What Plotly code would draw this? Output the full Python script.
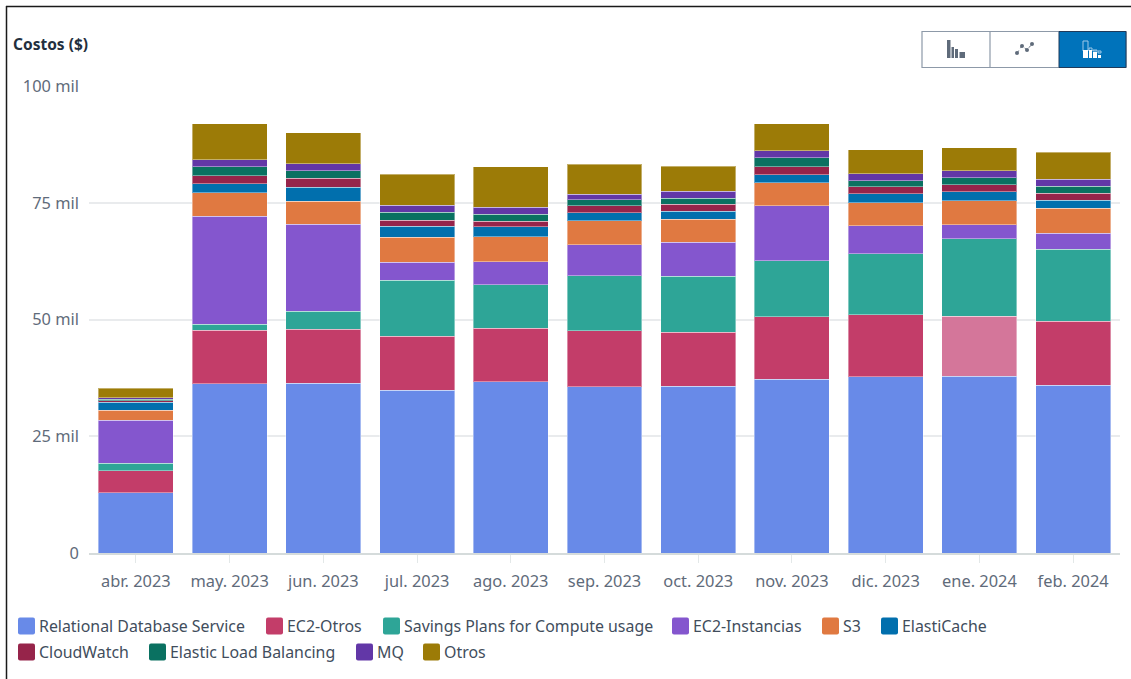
import plotly.graph_objects as go

months = ["abr. 2023", "may. 2023", "jun. 2023", "jul. 2023", "ago. 2023", "sep. 2023",
          "oct. 2023", "nov. 2023", "dic. 2023", "ene. 2024", "feb. 2024"]
rds = [12850, 36190, 36400, 34900, 36620, 35550, 35760, 37260, 37690, 37900, 35970]
ec2_otros = [4710, 11560, 11560, 11560, 11560, 11990, 11560, 13280, 13280, 12850, 13700]
savings = [1710, 1280, 3850, 11990, 9210, 11780, 11990, 11990, 13060, 16490, 15420]
ec2_inst = [9210, 23130, 18630, 3850, 4930, 6640, 7280, 11780, 6000, 3000, 3430]
s3 = [2140, 4930, 4930, 5350, 5350, 5140, 4930, 4930, 4930, 5140, 5350]
elasticache = [1710, 1930, 3000, 2360, 2140, 1710, 1710, 1710, 1930, 1930, 1710]
cloudwatch = [320, 1710, 1930, 1280, 1280, 1500, 1500, 1710, 1500, 1500, 1500]
elb = [320, 1930, 1500, 1710, 1500, 1280, 1280, 1930, 1280, 1500, 1500]
mq = [320, 1500, 1500, 1500, 1500, 1280, 1500, 1500, 1500, 1500, 1500]
otros = [2030, 7710, 6640, 6640, 8570, 6420, 5350, 5780, 5140, 4930, 5780]

series = [
    ("Relational Database Service", rds, "#688ae8"),
    ("EC2-Otros", ec2_otros, "#c33d69"),
    ("Savings Plans for Compute usage", savings, "#2ea597"),
    ("EC2-Instancias", ec2_inst, "#8456ce"),
    ("S3", s3, "#e07941"),
    ("ElastiCache", elasticache, "#016fad"),
    ("CloudWatch", cloudwatch, "#96244a"),
    ("Elastic Load Balancing", elb, "#0a7161"),
    ("MQ", mq, "#6237a7"),
    ("Otros", otros, "#9c7b07"),
]
highlight_month = "ene. 2024"
highlight_series = "EC2-Otros"
highlight_color = "#d4769a"

W, H = 1131, 679
L, R, T, B = 89, 11, 86, 126
PW, PH = W - L - R, H - T - B

fig = go.Figure()
for name, vals, color in series:
    colors = [highlight_color if (name == highlight_series and m == highlight_month) else color for m in months]
    fig.add_bar(x=months, y=vals, name=name, marker=dict(color=colors, line=dict(color="rgba(255,255,255,0.4)", width=1)))


def px(x):
    return (x - L) / PW


def py(y):
    return 1 - (y - T) / PH


shapes = []
annotations = []


def rect(x0, y0, x1, y1, fill="rgba(0,0,0,0)", line=None, width=0):
    shapes.append(dict(type="rect", xref="paper", yref="paper", x0=px(x0), x1=px(x1), y0=py(y0), y1=py(y1),
                       fillcolor=fill, line=dict(color=line or "rgba(0,0,0,0)", width=width), layer="above"))


# outer frame (top and left edges)
for a in [(6, 6.5, 1131, 6.5), (6.5, 6, 6.5, 679)]:
    shapes.append(dict(type="line", xref="paper", yref="paper", x0=px(a[0]), y0=py(a[1]), x1=px(a[2]), y1=py(a[3]),
                       line=dict(color="#1a1a1a", width=1.5)))

# toggle buttons
rect(922, 31.5, 1126, 67.5, fill="#ffffff", line="#8d99a8", width=1.2)
rect(1059, 31.5, 1126, 67.5, fill="#0073bb", line="#1f3a5a", width=1)
shapes.append(dict(type="line", xref="paper", yref="paper", x0=px(990), x1=px(990), y0=py(31.5), y1=py(67.5),
                   line=dict(color="#8d99a8", width=1.2)))
# bar icon
for x0, x1, top in [(947, 950.5, 40), (951.5, 954, 47), (955, 958, 49), (959.5, 965, 52)]:
    rect(x0, top, x1, 58, fill="#5f6b7a")
# line icon
icon_pts = [(1017, 53), (1022, 46), (1027, 50), (1032, 44)]
shapes.append(dict(type="path", xref="paper", yref="paper", layer="above",
                   path="M " + " L ".join(f"{px(a)},{py(b)}" for a, b in icon_pts),
                   line=dict(color="#5f6b7a", width=1, dash="dot")))
for a, b in icon_pts:
    shapes.append(dict(type="circle", xref="paper", yref="paper", x0=px(a - 2), x1=px(a + 2), y0=py(b + 2), y1=py(b - 2),
                       fillcolor="#5f6b7a", line=dict(width=0), layer="above"))
# stacked icon
for x0, x1, top in [(1083, 1088, 41), (1089, 1092, 48), (1093, 1097, 50), (1098, 1101, 53)]:
    rect(x0, top, x1, 51, fill="rgba(0,0,0,0)", line="#9fc9e8", width=1)
for x0, x1, top in [(1083, 1088, 50), (1089, 1092, 50), (1093, 1097, 52), (1098, 1101, 55)]:
    rect(x0, top, x1, 58, fill="#ffffff")

# hand-placed legend
legend_rows = [
    [(18, 39, 0), (266, 287, 1), (383, 404, 2), (672, 693, 3), (822, 843, 4), (881, 902, 5)],
    [(18, 39, 6), (149, 170, 7), (356, 377, 8), (423, 444, 9)],
]
for row, yc in zip(legend_rows, (626, 652)):
    for sx, tx, idx in row:
        name, _, color = series[idx]
        shapes.append(dict(type="path", xref="paper", yref="paper", layer="above", fillcolor=color, line=dict(width=0),
                           path=(f"M {px(sx + 2)},{py(yc - 8.5)} L {px(sx + 15)},{py(yc - 8.5)} "
                                 f"Q {px(sx + 17)},{py(yc - 8.5)} {px(sx + 17)},{py(yc - 6.5)} "
                                 f"L {px(sx + 17)},{py(yc + 6.5)} Q {px(sx + 17)},{py(yc + 8.5)} {px(sx + 15)},{py(yc + 8.5)} "
                                 f"L {px(sx + 2)},{py(yc + 8.5)} Q {px(sx)},{py(yc + 8.5)} {px(sx)},{py(yc + 6.5)} "
                                 f"L {px(sx)},{py(yc - 6.5)} Q {px(sx)},{py(yc - 8.5)} {px(sx + 2)},{py(yc - 8.5)} Z")))
        annotations.append(dict(text=name, xref="paper", yref="paper", x=px(tx), y=py(yc), xanchor="left", yanchor="middle",
                                xshift=-2, showarrow=False, font=dict(size=15.9, color="#414d5c")))

annotations.append(dict(text="<b>Costos ($)</b>", xref="paper", yref="paper", x=px(12), y=py(44), xanchor="left",
                        xshift=-1, yanchor="middle", showarrow=False, font=dict(size=15.5, color="#232f3e")))

fig.update_layout(
    width=W, height=H, autosize=False,
    barmode="stack", bargap=0.2, showlegend=False,
    paper_bgcolor="#ffffff", plot_bgcolor="#ffffff",
    margin=dict(l=L, r=R, t=T, b=B, pad=0),
    font=dict(family="Noto Sans, Open Sans, sans-serif", size=16, color="#5f6b7a"),
    shapes=shapes, annotations=annotations,
    xaxis=dict(type="category", categoryorder="array", categoryarray=months, showgrid=False, showline=True,
               linecolor="#d5dbdb", linewidth=2, ticks="outside", ticklen=8, tickcolor="#e3e8e8", tickwidth=1,
               tickfont=dict(size=16.4, color="#5f6b7a"), ticklabelstandoff=4, zeroline=False),
    yaxis=dict(range=[0, 100000], tickvals=[0, 25000, 50000, 75000, 100000],
               ticktext=["0", "25 mil", "50 mil", "75 mil", "100 mil"], gridcolor="#e9ebed", gridwidth=2,
               zeroline=False, tickfont=dict(size=16.4, color="#5f6b7a"), ticks="", ticklabelstandoff=9),
)

fig.write_html("out.html", post_script="document.body.style.margin='0';", config={"displayModeBar": False})
